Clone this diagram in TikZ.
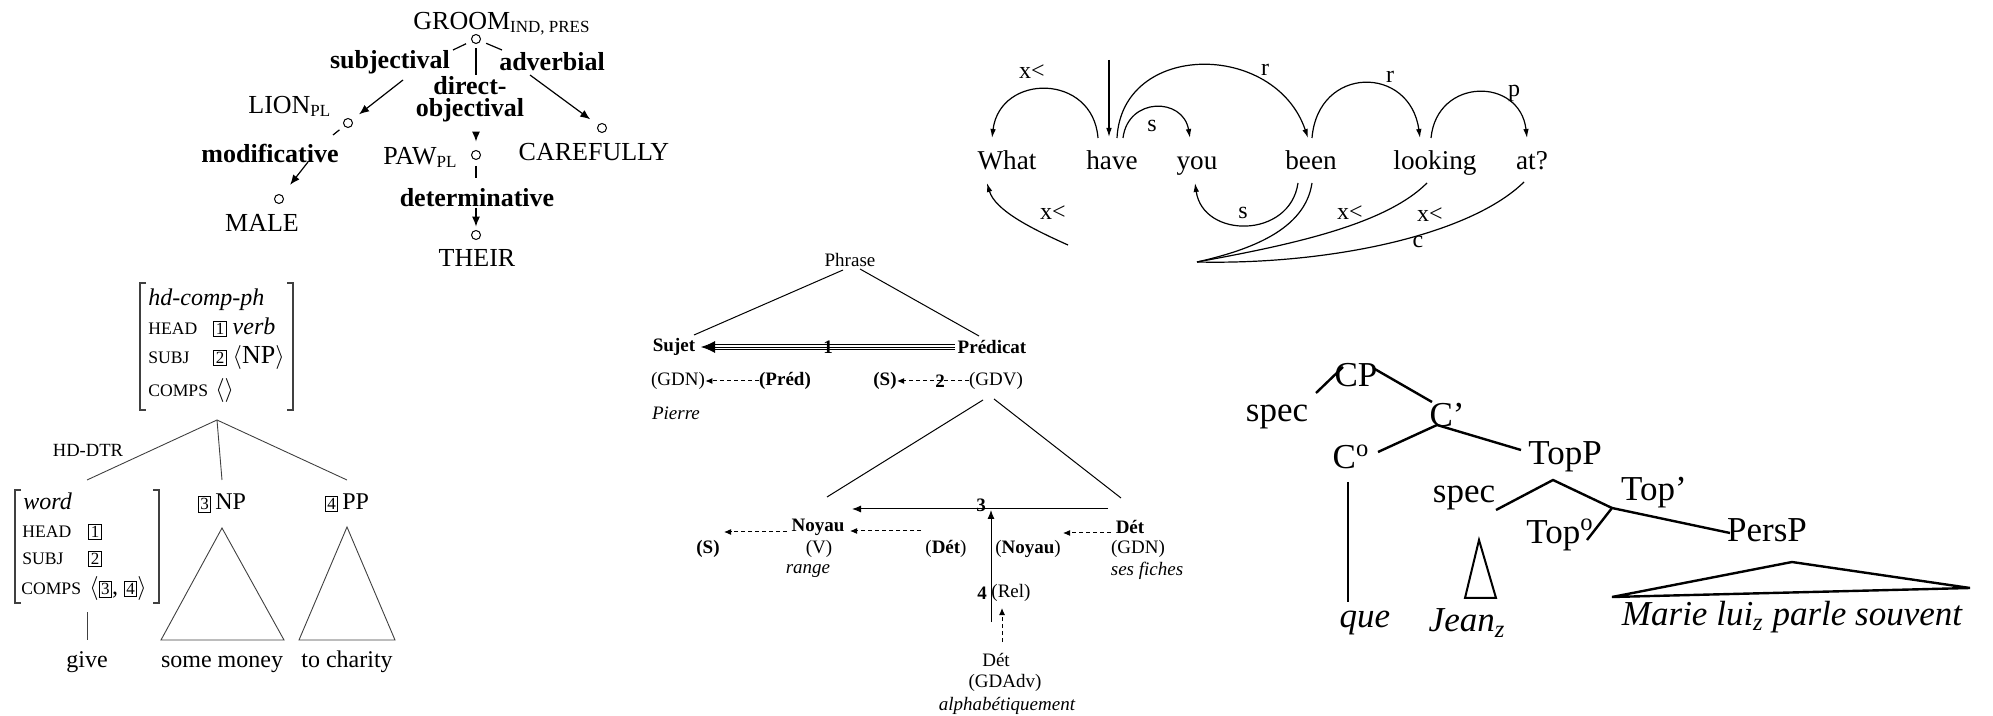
\documentclass[tikz,border=0pt]{standalone}
\usepackage{fontspec}
\setmainfont{Liberation Serif}
\usetikzlibrary{arrows.meta}
\newcommand\fs[1]{\fontsize{#1}{#1}\selectfont}
\newcommand\bx[1]{{\setlength\fboxsep{0.7pt}\setlength\fboxrule{0.5pt}\fbox{\fs{8.5}#1}}}
\newcommand\smc[1]{{\fs{8.8}#1}}
\begin{document}
\begin{tikzpicture}[x=0.5pt,y=-0.5pt,
  dt/.style={font=\fs{13},inner sep=0pt},
  dtl/.style={font=\fs{13}\bfseries,inner sep=0pt},
  circ/.style={circle,draw,minimum size=4.5pt,inner sep=0pt,line width=0.5pt},
  darr/.style={-{Latex[length=5pt,width=4pt]},line width=0.6pt},
  dln/.style={line width=0.6pt},
  wd/.style={font=\fs{13.6},inner sep=0pt,anchor=base},
  al/.style={font=\fs{12},inner sep=0pt},
  arc/.style={line width=0.6pt,-{Latex[length=4.5pt,width=2.8pt]}},
  pln/.style={line width=0.6pt},
  hp/.style={font=\fs{12},inner sep=0pt,anchor=base west},
  hline/.style={line width=0.45pt,draw=black!75},
  fr/.style={font=\fs{9.5},inner sep=0pt},
  frb/.style={font=\fs{9.5}\bfseries,inner sep=0pt},
  frl/.style={line width=0.5pt},
  fda/.style={line width=0.5pt,dash pattern=on 2pt off 1.5pt,-{Latex[length=3.5pt,width=3pt]}},
  cp/.style={font=\fs{17.5},inner sep=0pt},
  cpl/.style={line width=1.2pt}]
\useasboundingbox (0,0) rectangle (1993,716);

% ---------------- dependency tree (top left)
\node[circ] (g0) at (476,39) {};
\node[dt,anchor=base west] (groom) at (413,30) {GROOM\raisebox{-1.5pt}{\fs{8.5}IND, PRES}};
\node[dtl] (lsubj) at (390,62) {subjectival};
\node[dtl] (ldobj1) at (470,86) {direct-};
\node[dtl] (ldobj2) at (470,110) {objectival};
\node[dtl] (ladv) at (552,62) {adverbial};
\node[dtl] (lmod) at (270,153) {modificative};
\node[dtl] (ldet) at (477,198) {determinative};
\node[circ] (lion0) at (348,123) {};
\node[circ] (male0) at (279,199) {};
\node[circ] (paw0) at (476,155) {};
\node[circ] (their0) at (476,235) {};
\node[circ] (care0) at (602,128) {};
\node[dt,anchor=base west] (lion) at (248,114) {LION\raisebox{-1.5pt}{\fs{8.5}PL}};
\node[dt] (male) at (262,223) {MALE};
\node[dt,anchor=base west] (paw) at (383,165) {PAW\raisebox{-1.5pt}{\fs{8.5}PL}};
\node[dt] (their) at (477,258) {THEIR};
\node[dt] (care) at (594,152) {CAREFULLY};
\coordinate (s1) at (453,50);
\coordinate (s2) at (403,80);
\coordinate (d1) at (476,75);
\coordinate (d2) at (476,133);
\coordinate (a1) at (502,50);
\coordinate (a2) at (530,75);
\coordinate (m1) at (333,135);
\coordinate (m2) at (308,162);
\coordinate (t1) at (476,178);
\coordinate (t2) at (476,208);
\draw[dln,shorten <=3pt] (g0) -- (s1);
\draw[darr,shorten >=4.5pt] (s2) -- (lion0);
\draw[dln,shorten <=2pt] (g0) -- (d1);
\draw[darr,shorten >=4.2pt] (d2) -- (paw0);
\draw[dln,shorten <=3pt] (g0) -- (a1);
\draw[darr,shorten >=4.8pt] (a2) -- (care0);
\draw[dln,shorten <=3pt] (lion0) -- (m1);
\draw[darr,shorten >=6.5pt] (m2) -- (male0);
\draw[dln,shorten <=3pt] (paw0) -- (t1);
\draw[darr,shorten >=1.7pt] (t2) -- (their0);

% ---------------- arc diagram (top right)
\node[wd] (wWhat) at (1007,170) {What};
\node[wd] (wHave) at (1112,170) {have};
\node[wd] (wYou) at (1197,170) {you};
\node[wd] (wBeen) at (1311,170) {been};
\node[wd] (wLook) at (1435,170) {looking};
\node[wd] (wAt) at (1532,170) {at?};
\coordinate (hT1) at (1098,138);
\coordinate (wT) at (992,138);
\coordinate (v0) at (1109,60);
\coordinate (hT2) at (1109,137);
\coordinate (hT3) at (1117,138);
\coordinate (hT4) at (1123,138);
\coordinate (yT) at (1190,138);
\coordinate (bT1) at (1308,138);
\coordinate (bT2) at (1312,138);
\coordinate (lT1) at (1420,138);
\coordinate (lT2) at (1431,138);
\coordinate (aT) at (1527,138);
\coordinate (xs) at (1068,245);
\coordinate (wB) at (987,183);
\coordinate (bB1) at (1298,183);
\coordinate (bB2) at (1312,183);
\coordinate (yB) at (1195,183);
\coordinate (lB) at (1427,183);
\coordinate (aB) at (1524,182);
\coordinate (pt) at (1197,262);
\draw[arc] (hT1) .. controls (1093,73) and (1000,73) .. (wT);
\draw[arc] (v0) -- (hT2);
\draw[arc] (hT3) .. controls (1122,41) and (1275,41) .. (bT1);
\draw[arc] (hT4) .. controls (1128,97) and (1183,97) .. (yT);
\draw[arc] (bT2) .. controls (1318,65) and (1410,65) .. (lT1);
\draw[arc] (lT2) .. controls (1437,77) and (1520,77) .. (aT);
\draw[arc] (xs) .. controls (1030,228) and (995,210) .. (wB);
\draw[arc] (bB1) .. controls (1290,239) and (1203,239) .. (yB);
\draw[pln] (bB2) .. controls (1305,230) and (1250,250) .. (pt);
\draw[pln] (lB) .. controls (1385,225) and (1290,245) .. (pt);
\draw[pln] (aB) .. controls (1470,235) and (1330,265) .. (pt);
\node[al] (lx1) at (1032,72) {x<};
\node[al] (lr1) at (1265,70) {r};
\node[al] (ls1) at (1152,126) {s};
\node[al] (lr2) at (1390,77) {r};
\node[al] (lp) at (1514,93) {p};
\node[al] (lx2) at (1053,213) {x<};
\node[al] (ls2) at (1243,213) {s};
\node[al] (lx3) at (1350,213) {x<};
\node[al] (lx4) at (1430,215) {x<};
\node[al] (lc) at (1418,242) {c};

% ---------------- HPSG (bottom left)
\draw[hline,line width=0.7pt] (146,283) -- (140,283) -- (140,410) -- (146,410);
\draw[hline,line width=0.7pt] (287,283) -- (293,283) -- (293,410) -- (287,410);
\node[hp] (h1) at (148,306) {\itshape hd-comp-ph};
\node[hp] (h2) at (148,335) {\smc{HEAD}};
\node[hp] (h2b) at (213,335) {\bx{1} \textit{verb}};
\node[hp] (h3) at (148,364) {\smc{SUBJ}};
\node[hp] (h3b) at (213,364) {\bx{2} {\fs{13}$\langle$NP$\rangle$}};
\node[hp] (h4) at (148,397) {\smc{COMPS}};
\node[hp] (h4b) at (215,397) {$\langle\rangle$};
\coordinate (hap) at (217,420);
\coordinate (hl) at (87,480);
\coordinate (hm) at (222,480);
\coordinate (hr) at (347,480);
\draw[hline] (hap) -- (hl);
\draw[hline] (hap) -- (hm);
\draw[hline] (hap) -- (hr);
\node[font=\fs{9.3},inner sep=0pt] (hdd) at (88,450) {HD-DTR};
\draw[hline,line width=0.7pt] (21,490) -- (15,490) -- (15,603) -- (21,603);
\draw[hline,line width=0.7pt] (153,490) -- (159,490) -- (159,603) -- (153,603);
\node[hp] (w1) at (23,510) {\itshape word};
\node[hp] (w2) at (22,538) {\smc{HEAD}};
\node[hp] (w2b) at (88,538) {\bx{1}};
\node[hp] (w3) at (22,565) {\smc{SUBJ}};
\node[hp] (w3b) at (88,565) {\bx{2}};
\node[hp] (w4) at (21,595) {\smc{COMPS}};
\node[hp] (w4b) at (89,595) {$\langle$\bx{3}, \bx{4}$\rangle$};
\coordinate (wv0) at (87,612);
\coordinate (wv1) at (87,640);
\draw[hline] (wv0) -- (wv1);
\node[hp,anchor=base] (give) at (87,668) {give};
\node[hp,anchor=base] (np) at (222,510) {\bx{3}\,NP};
\node[hp,anchor=base] (pp) at (347,510) {\bx{4}\,PP};
\node[hp,anchor=base] (smoney) at (222,668) {some money};
\node[hp,anchor=base] (tochar) at (347,668) {to charity};
\draw[hline] (222,528) -- (284,640) -- (161,640) -- cycle;
\draw[hline] (347,527) -- (395,640) -- (299,640) -- cycle;

% ---------------- French diagram (middle)
\node[fr] (phrase) at (850,260) {Phrase};
\node[frb] (sujet) at (674,347) {Sujet};
\node[frb] (predicat) at (992,347) {Prédicat};
\coordinate (ph1) at (843,270);
\coordinate (ph2) at (694,335);
\coordinate (ph3) at (860,269);
\coordinate (ph4) at (979,336);
\draw[frl] (ph1) -- (ph2);
\draw[frl] (ph3) -- (ph4);
\coordinate (tr0) at (955,347);
\coordinate (tr1) at (701,347);
\draw[line width=0.45pt,double distance=2.2pt,shorten >=6pt] (tr0) -- (tr1);
\draw[line width=0.45pt,-{Latex[length=7pt,width=6pt]}] (tr0) -- (tr1);
\node[frb] (n1) at (828,347) {1};
\node[fr] (gdn1) at (678,381) {(GDN)};
\node[frb] (pred) at (785,381) {(Préd)};
\node[frb] (s1n) at (885,381) {(S)};
\node[fr] (gdv) at (996,381) {(GDV)};
\draw[fda] (pred) -- (gdn1);
\draw[fda] (gdv) -- (s1n);
\node[frb] (n2) at (940,381) {2};
\node[fr,font=\fs{9.5}\itshape] (pierre) at (676,413) {Pierre};
\coordinate (gv1) at (983,400);
\coordinate (gv2) at (827,497);
\coordinate (gv3) at (994,399);
\coordinate (gv4) at (1121,498);
\draw[frl] (gv1) -- (gv2);
\draw[frl] (gv3) -- (gv4);
\coordinate (h30) at (1108,509);
\coordinate (h31) at (852,509);
\draw[frl,-{Latex[length=4.5pt,width=3.5pt]}] (h30) -- (h31);
\node[frb] (n3) at (981,505) {3};
\coordinate (v40) at (991,622);
\coordinate (v41) at (991,510);
\draw[frl,-{Latex[length=4.5pt,width=3.5pt]}] (v40) -- (v41);
\node[frb] (noyau) at (818,527) {Noyau};
\node[fr] (vv) at (819,549) {(V)};
\node[fr,font=\fs{9.5}\itshape] (range) at (808,571) {range};
\node[frb] (s2n) at (708,549) {(S)};
\coordinate (dn0) at (787,532);
\coordinate (dn1) at (724,532);
\draw[fda] (dn0) -- (dn1);
\coordinate (dd0) at (921,531);
\coordinate (dd1) at (850,531);
\draw[fda] (dd0) -- (dd1);
\node[fr] (det1) at (946,549) {(\textbf{Dét})};
\node[fr] (noy2) at (1028,549) {(\textbf{Noyau})};
\node[frb] (det2) at (1130,527) {Dét};
\node[fr] (gdn2) at (1138,549) {(GDN)};
\node[fr,font=\fs{9.5}\itshape] (fiches) at (1147,571) {ses fiches};
\coordinate (de0) at (1111,533);
\coordinate (de1) at (1063,533);
\draw[fda] (de0) -- (de1);
\node[frb] (n4) at (982,593) {4};
\node[fr] (rel) at (1011,593) {(Rel)};
\coordinate (du0) at (1002,642);
\coordinate (du1) at (1002,608);
\draw[fda] (du0) -- (du1);
\node[fr] (det3) at (996,660) {Dét};
\node[fr] (gdadv) at (1005,683) {(GDAdv)};
\node[fr,font=\fs{9.5}\itshape] (alpha) at (1007,706) {alphabétiquement};

% ---------------- CP tree (bottom right)
\node[cp] (cpn) at (1356,375) {CP};
\node[cp] (spec1) at (1277,417) {spec};
\node[cp] (cbar) at (1447,415) {C’};
\node[cp] (czero) at (1351,457) {C\textsuperscript{o}};
\node[cp] (topp) at (1565,457) {TopP};
\node[cp] (spec2) at (1464,498) {spec};
\node[cp] (topbar) at (1654,493) {Top’};
\node[cp] (topzero) at (1560,535) {Top\textsuperscript{o}};
\node[cp] (persp) at (1767,530) {PersP};
\node[cp,font=\fs{17.5}\itshape] (que) at (1365,623) {que};
\node[cp,font=\fs{17.5}\itshape] (jean) at (1467,623) {Jean\textsubscript{z}};
\node[cp,font=\fs{17.5}\itshape] (marie) at (1792,617) {Marie lui\textsubscript{z} parle souvent};
\coordinate (c1) at (1316,393);
\coordinate (c2) at (1343,367);
\coordinate (c3) at (1373,368);
\coordinate (c4) at (1432,402);
\coordinate (cb) at (1437,425);
\coordinate (c5) at (1378,452);
\coordinate (c6) at (1521,450);
\coordinate (c7) at (1348,482);
\coordinate (c8) at (1348,602);
\coordinate (ta) at (1553,480);
\coordinate (t5) at (1496,510);
\coordinate (tb) at (1612,508);
\coordinate (t6) at (1587,540);
\coordinate (t7) at (1730,533);
\draw[cpl] (c1) -- (c2);
\draw[cpl] (c3) -- (c4);
\draw[cpl] (c5) -- (cb) -- (c6);
\draw[line width=0.9pt] (c7) -- (c8);
\draw[cpl] (t5) -- (ta) -- (tb);
\draw[cpl] (t6) -- (tb) -- (t7);
\draw[line width=1pt] (1479,540) -- (1496,598) -- (1465,598) -- cycle;
\draw[cpl,line join=miter] (1792,562) -- (1970,588) -- (1612,597) -- cycle;
\end{tikzpicture}
\end{document}
